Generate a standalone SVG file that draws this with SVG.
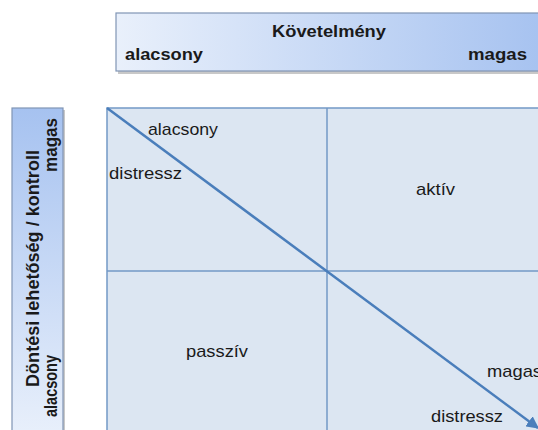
<svg xmlns="http://www.w3.org/2000/svg" width="538" height="430" viewBox="0 0 538 430">
  <defs>
    <linearGradient id="gTop" x1="0" y1="0" x2="1" y2="0">
      <stop offset="0" stop-color="#e9f0fb"/>
      <stop offset="1" stop-color="#a6c2f0"/>
    </linearGradient>
    <linearGradient id="gLeft" x1="0" y1="0" x2="0" y2="1">
      <stop offset="0" stop-color="#a6c2f0"/>
      <stop offset="1" stop-color="#e9f0fb"/>
    </linearGradient>
    <marker id="arrow" viewBox="0 0 10 10" refX="9" refY="5" markerWidth="5" markerHeight="5" orient="auto" markerUnits="strokeWidth">
      <path d="M0,0 L10,5 L0,10 z" fill="#4a7ebb"/>
    </marker>
    <style>
      .hdr { font-family: "Liberation Sans", Arial, sans-serif; font-size: 17px; font-weight: bold; fill: #1a1a1a; }
      .lbl { font-family: "Liberation Sans", Arial, sans-serif; font-size: 17px; fill: #1a1a1a; }
      .box { stroke: #8095b5; stroke-width: 1.2; }
      .shadow { fill: #9a9a9a; opacity: 0.55; }
      .grid { fill: #dce6f2; stroke: #7399c6; stroke-width: 1.5; }
      .gline { stroke: #7399c6; stroke-width: 1.5; fill: none; }
      .diag { stroke: #4a7ebb; stroke-width: 2.5; fill: none; }
    </style>
  </defs>
  <rect width="538" height="430" fill="#ffffff"/>

  <g id="axis-top">
    <rect class="shadow" x="118" y="15" width="430" height="59"/>
    <rect class="box" x="116" y="13" width="430" height="58" fill="url(#gTop)"/>
    <text class="hdr" x="272" y="37" textLength="114" lengthAdjust="spacingAndGlyphs">Követelmény</text>
    <text class="hdr" x="125" y="60" textLength="78" lengthAdjust="spacingAndGlyphs">alacsony</text>
    <text class="hdr" x="468" y="60" textLength="59" lengthAdjust="spacingAndGlyphs">magas</text>
  </g>

  <g id="axis-left">
    <rect class="shadow" x="14" y="110" width="51" height="330"/>
    <rect class="box" x="12" y="108" width="51" height="330" fill="url(#gLeft)"/>
    <text class="hdr" transform="translate(39,387) rotate(-90) scale(1,1.12)" textLength="237" lengthAdjust="spacingAndGlyphs">Döntési lehetőség / kontroll</text>
    <text class="hdr" transform="translate(57,417) rotate(-90) scale(1,1.12)" textLength="62" lengthAdjust="spacingAndGlyphs">alacsony</text>
    <text class="hdr" transform="translate(57,172) rotate(-90) scale(1,1.12)" textLength="54" lengthAdjust="spacingAndGlyphs">magas</text>
  </g>

  <g id="matrix">
    <rect class="grid" x="107" y="108" width="440" height="330"/>
    <line class="gline" x1="327" y1="108" x2="327" y2="438"/>
    <line class="gline" x1="107" y1="271" x2="547" y2="271"/>
  </g>

  <g id="quadrant-active">
    <text class="lbl" x="416" y="195" textLength="39" lengthAdjust="spacingAndGlyphs">aktív</text>
  </g>
  <g id="quadrant-passive">
    <text class="lbl" x="186" y="357" textLength="62" lengthAdjust="spacingAndGlyphs">passzív</text>
  </g>

  <g id="connectors">
    <line class="diag" x1="107" y1="108" x2="538" y2="428" marker-end="url(#arrow)"/>
  </g>

  <g id="diag-start">
    <text class="lbl" x="148" y="135" textLength="70" lengthAdjust="spacingAndGlyphs">alacsony</text>
    <text class="lbl" x="109" y="179" textLength="73" lengthAdjust="spacingAndGlyphs">distressz</text>
  </g>
  <g id="diag-end">
    <text class="lbl" x="487" y="377" textLength="55" lengthAdjust="spacingAndGlyphs">magas</text>
    <text class="lbl" x="431" y="422" textLength="72" lengthAdjust="spacingAndGlyphs">distressz</text>
  </g>
</svg>
